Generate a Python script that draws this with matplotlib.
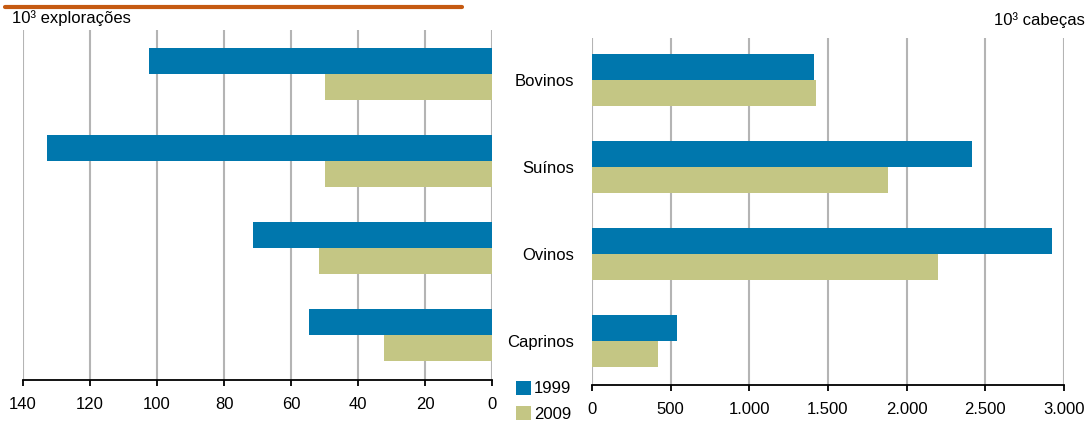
import numpy as np
import matplotlib.pyplot as plt
from matplotlib.lines import Line2D

plt.rcParams['font.family'] = ['Liberation Sans', 'DejaVu Sans']
plt.rcParams['font.size'] = 12

especies = ['Bovinos', 'Suínos', 'Ovinos', 'Caprinos']
anos = ['1999', '2009']
# 10^3 explorações
exploracoes_1999 = [102.4, 132.8, 71.3, 54.6]
exploracoes_2009 = [49.9, 49.9, 51.6, 32.2]
# 10^3 cabeças
cabecas_1999 = [1411, 2416, 2924, 540]
cabecas_2009 = [1424, 1882, 2200, 420]

azul = '#0077ad'
verde = '#c4c684'
grelha = '#b4b4b4'

fig = plt.figure(figsize=(10.88, 4.21), dpi=100)
W, H = 1088, 421

def caixa(x0, x1, y0, y1):
    return [x0 / W, 1 - y1 / H, (x1 - x0) / W, (y1 - y0) / H]

ax1 = fig.add_axes(caixa(23, 492, 30, 380))
ax2 = fig.add_axes(caixa(592, 1064, 38, 385))

y = np.arange(len(especies))
h = 0.3

ax1.barh(y - h / 2, exploracoes_1999, height=h, color=azul, label=anos[0])
ax1.barh(y + h / 2, exploracoes_2009, height=h, color=verde, label=anos[1])
ax2.barh(y - h / 2, cabecas_1999, height=h, color=azul)
ax2.barh(y + h / 2, cabecas_2009, height=h, color=verde)

ax1.set_xlim(140, 0)
ax1.set_xticks(np.arange(0, 141, 20))
ax1.set_ylim(3.517, -0.506)
ax2.set_xlim(0, 3000)
ax2.set_xticks(np.arange(0, 3001, 500))
ax2.set_xticklabels(['0', '500', '1.000', '1.500', '2.000', '2.500', '3.000'])
ax2.set_ylim(3.506, -0.483)

for ax in (ax1, ax2):
    ax.set_axisbelow(True)
    ax.grid(axis='x', color=grelha, linewidth=1.5)
    for s in ('top', 'left', 'right'):
        ax.spines[s].set_visible(False)
    ax.spines['bottom'].set_linewidth(1.3)
    ax.tick_params(axis='x', direction='out', length=4, width=1.3, pad=8)

ax1.set_yticks([])
ax2.set_yticks(y)
ax2.set_yticklabels(especies)
ax2.tick_params(axis='y', length=0, pad=13)

fig.text(12 / W, 1 - 18 / H, '10³ explorações', ha='left', va='center')
fig.text(1085 / W, 1 - 20 / H, '10³ cabeças', ha='right', va='center')

fig.add_artist(Line2D([5 / W, 462 / W], [1 - 7 / H, 1 - 7 / H],
                      color='#c55a11', linewidth=3, solid_capstyle='round'))

fig.legend(loc='upper left', bbox_to_anchor=(509 / W, 1 - 374 / H),
           frameon=False, handlelength=0.9, handleheight=0.9,
           handletextpad=0.2, labelspacing=0.6, borderaxespad=0)

fig.savefig('out.png', dpi=100)
